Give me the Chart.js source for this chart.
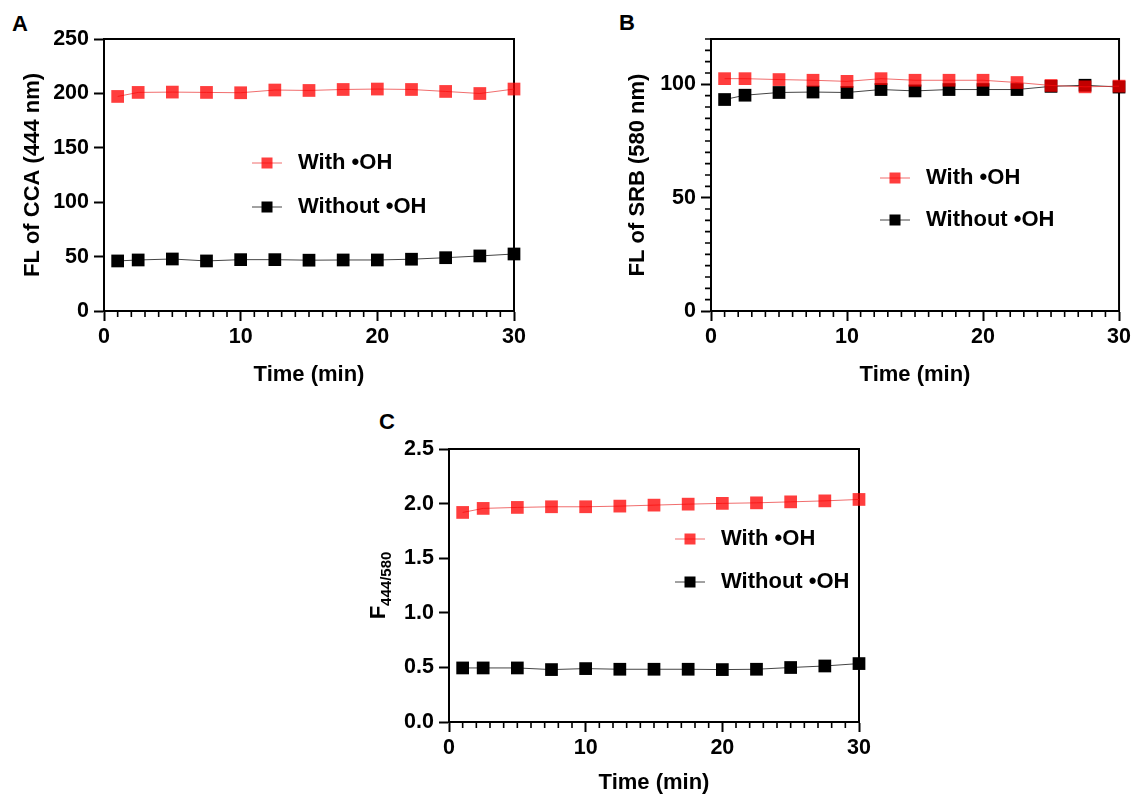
<!DOCTYPE html>
<html><head><meta charset="utf-8">
<script src="https://cdn.jsdelivr.net/npm/chart.js@4"></script>
<style>
html,body{margin:0;padding:0;background:#fff;width:1134px;height:796px;overflow:hidden;}
canvas{position:absolute;}
.lbl{position:absolute;font:bold 22px "Liberation Sans",Arial,sans-serif;transform:translate(-50%,-50%);line-height:1;color:#000;}
</style></head><body>
<div class="lbl" style="left:20px;top:24px">A</div>
<div class="lbl" style="left:627px;top:23px">B</div>
<div class="lbl" style="left:387px;top:422px">C</div>
<canvas id="ca" width="560" height="400" style="left:0;top:0"></canvas>
<canvas id="cb" width="534" height="400" style="left:600px;top:0"></canvas>
<canvas id="cc" width="560" height="396" style="left:340px;top:400px"></canvas>
<script>
const FONT = '"Liberation Sans", Arial, sans-serif';
const time = [1, 2.5, 5, 7.5, 10, 12.5, 15, 17.5, 20, 22.5, 25, 27.5, 30];
const seriesNames = ['With \u2022OH', 'Without \u2022OH'];
const aWith    = [197.2, 200.9, 201.2, 200.9, 200.6, 203.1, 202.7, 203.6, 204.0, 203.6, 201.8, 199.9, 204.0];
const aWithout = [46.0, 46.9, 47.8, 46.0, 47.2, 47.2, 46.7, 46.9, 46.9, 47.6, 49.0, 50.6, 52.4];
const bWith    = [102.5, 102.5, 102.1, 101.8, 101.3, 102.5, 101.8, 101.8, 101.8, 100.8, 99.5, 98.9, 99.2];
const bWithout = [93.3, 95.2, 96.4, 96.6, 96.4, 97.7, 97.1, 97.7, 97.7, 97.7, 99.1, 99.6, 98.8];
const cWith    = [1.919, 1.956, 1.965, 1.971, 1.971, 1.977, 1.986, 1.995, 2.002, 2.007, 2.016, 2.025, 2.038];
const cWithout = [0.495, 0.495, 0.495, 0.480, 0.489, 0.483, 0.483, 0.483, 0.480, 0.483, 0.499, 0.513, 0.535];

const RED_PT = 'rgba(255,0,0,0.76)';
const RED_LN = 'rgba(235,60,60,0.75)';
const BLK_PT = '#000000';
const BLK_LN = '#444444';

const extras = {
  id: 'extras',
  beforeDatasetsDraw(chart) {
    const o = chart.options.plugins.extras;
    const {ctx, chartArea: a} = chart;
    ctx.save();
    ctx.strokeStyle = '#000';
    ctx.lineWidth = 2;
    ctx.beginPath();
    ctx.moveTo(a.left, a.top); ctx.lineTo(a.right, a.top); ctx.lineTo(a.right, a.bottom);
    ctx.stroke();
    ctx.lineWidth = 1.6;
    const xs = chart.scales.x;
    ctx.beginPath();
    for (let v = xs.min; v <= xs.max + 1e-9; v += o.xMinor) {
      if (Math.abs(v % o.xMajor) < 1e-9) continue;
      const px = xs.getPixelForValue(v);
      ctx.moveTo(px, a.bottom); ctx.lineTo(px, a.bottom + 6);
    }
    if (o.yMinor) {
      const ys = chart.scales.y;
      for (let v = ys.min; v <= ys.max + 1e-9; v += o.yMinor) {
        if (Math.abs(v % o.yMajor) < 1e-9) continue;
        const py = ys.getPixelForValue(v);
        ctx.moveTo(a.left, py); ctx.lineTo(a.left - 6, py);
      }
    }
    ctx.stroke();
    ctx.restore();
  },
  afterDraw(chart) {
    const o = chart.options.plugins.extras;
    const {ctx, chartArea: a} = chart;
    ctx.save();
    // legend
    chart.data.datasets.forEach((ds, i) => {
      const x0 = a.left + o.legX, y = a.top + o.legY + i * o.legGap;
      ctx.strokeStyle = ds.borderColor; ctx.lineWidth = 1;
      ctx.beginPath(); ctx.moveTo(x0, y); ctx.lineTo(x0 + 30, y); ctx.stroke();
      ctx.fillStyle = ds.pointBackgroundColor;
      ctx.fillRect(x0 + 15 - 5.5, y - 5.5, 11, 11);
      ctx.fillStyle = '#000';
      ctx.font = 'bold 22px ' + FONT;
      ctx.textBaseline = 'middle'; ctx.textAlign = 'left';
      ctx.fillText(ds.label, x0 + 46, y);
    });
    // subscript title
    if (o.subTitle) {
      const cy = (a.top + a.bottom) / 2;
      ctx.translate(a.left - o.subTitle.offset, cy);
      ctx.rotate(-Math.PI / 2);
      ctx.textBaseline = 'alphabetic'; ctx.textAlign = 'left';
      ctx.font = 'bold 22px ' + FONT;
      const wF = ctx.measureText(o.subTitle.main).width;
      ctx.font = 'bold 15px ' + FONT;
      const wS = ctx.measureText(o.subTitle.sub).width;
      const x = -(wF + wS) / 2;
      ctx.fillStyle = '#000';
      ctx.font = 'bold 22px ' + FONT;
      ctx.fillText(o.subTitle.main, x, 0);
      ctx.font = 'bold 15px ' + FONT;
      ctx.fillText(o.subTitle.sub, x + wF, 6);
    }
    ctx.restore();
  }
};

function make(id, W, H, area, withVals, withoutVals, y, ex) {
  const axisCommon = {
    border: {display: true, color: '#000', width: 2},
    grid: {display: true, drawOnChartArea: false, drawTicks: true, tickLength: 10, tickWidth: 2, tickColor: '#000'},
  };
  new Chart(document.getElementById(id), {
    type: 'line',
    data: {
      labels: time,
      datasets: [
        {label: seriesNames[0], data: time.map((t, i) => ({x: t, y: withVals[i]})),
         borderColor: RED_LN, borderWidth: 1, pointStyle: 'rect', pointRadius: 9, pointHoverRadius: 9,
         pointBackgroundColor: RED_PT, pointBorderWidth: 0, pointBorderColor: RED_PT, clip: false, tension: 0},
        {label: seriesNames[1], data: time.map((t, i) => ({x: t, y: withoutVals[i]})),
         borderColor: BLK_LN, borderWidth: 1, pointStyle: 'rect', pointRadius: 9, pointHoverRadius: 9,
         pointBackgroundColor: BLK_PT, pointBorderWidth: 0, pointBorderColor: BLK_PT, clip: false, tension: 0}
      ]
    },
    options: {
      responsive: false, animation: false, devicePixelRatio: 1,
      layout: {padding: {left: 0, top: area.top, right: W - area.right, bottom: 0}},
      plugins: {legend: {display: false}, tooltip: {enabled: false}, extras: ex},
      scales: {
        x: Object.assign({}, axisCommon, {
          type: 'linear', min: 0, max: 30,
          ticks: {stepSize: 10, color: '#000', padding: 3, font: {family: FONT, size: 21.5, weight: 'bold'}},
          title: {display: true, text: 'Time (min)', color: '#000', font: {family: FONT, size: 22, weight: 'bold'}, padding: {top: 0, bottom: ex.xTitlePad}},
          afterFit(s) { s.height = H - area.bottom; }
        }),
        y: Object.assign({}, axisCommon, {
          type: 'linear', min: y.min, max: y.max,
          ticks: {stepSize: y.step, includeBounds: false, color: '#000', padding: 5, font: {family: FONT, size: 21.5, weight: 'bold'},
                  callback: y.fmt || (v => String(v))},
          title: {display: !!y.title, text: y.title || '', color: '#000', font: {family: FONT, size: 22, weight: 'bold'}, padding: {top: ex.yTitlePad, bottom: 0}},
          afterFit(s) { s.width = area.left; }
        })
      }
    },
    plugins: [extras]
  });
}

make('ca', 560, 400, {left: 104, top: 39, right: 514, bottom: 311}, aWith, aWithout,
  {min: 0, max: 250, step: 50, title: 'FL of CCA (444 nm)'},
  {xMinor: 1, xMajor: 10, legX: 148, legY: 124, legGap: 44, xTitlePad: 12, yTitlePad: 20});

make('cb', 534, 400, {left: 111, top: 39, right: 521, bottom: 311}, bWith, bWithout,
  {min: 0, max: 120, step: 50, title: 'FL of SRB (580 nm)'},
  {xMinor: 1, xMajor: 10, yMinor: 5, yMajor: 50, legX: 169, legY: 139, legGap: 42, xTitlePad: 12, yTitlePad: 25});

make('cc', 560, 396, {left: 109, top: 49, right: 519, bottom: 322}, cWith, cWithout,
  {min: 0, max: 2.5, step: 0.5, title: '', fmt: v => v.toFixed(1)},
  {xMinor: 1, xMajor: 10, legX: 226, legY: 90, legGap: 43, xTitlePad: 0, yTitlePad: 0,
   subTitle: {main: 'F', sub: '444/580', offset: 64}});
</script>
</body></html>
